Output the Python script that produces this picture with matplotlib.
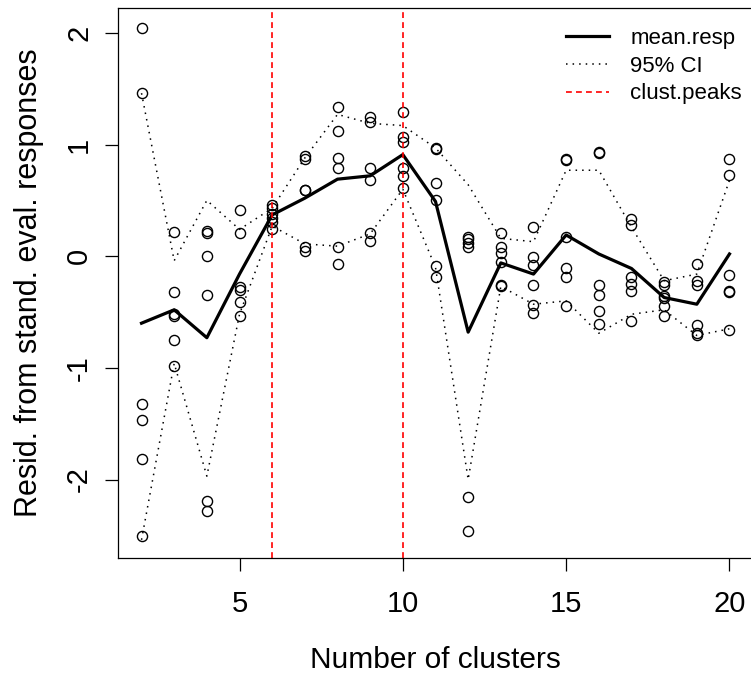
import numpy as np
import matplotlib
matplotlib.use("Agg")
import matplotlib.pyplot as plt

plt.rcParams['font.family'] = ['Liberation Sans', 'DejaVu Sans']

# ---- data ----
n_clusters = [2, 3, 4, 5, 6, 7, 8, 9, 10, 11, 12, 13, 14, 15, 16, 17, 18, 19, 20]

resid_points = [
    [2.04, 1.46, -1.32, -1.47, -1.82, -2.51],
    [0.22, -0.32, -0.52, -0.54, -0.75, -0.98],
    [0.23, 0.21, 0.00, -0.35, -2.19, -2.28],
    [0.41, 0.21, -0.28, -0.30, -0.41, -0.54],
    [0.46, 0.43, 0.38, 0.34, 0.31, 0.24],
    [0.90, 0.87, 0.59, 0.59, 0.08, 0.05],
    [1.34, 1.12, 0.88, 0.79, 0.08, -0.07],
    [1.25, 1.20, 0.79, 0.68, 0.21, 0.14],
    [1.29, 1.07, 1.02, 0.79, 0.72, 0.61],
    [0.97, 0.96, 0.66, 0.50, -0.09, -0.19],
    [0.17, 0.15, 0.12, 0.08, -2.16, -2.46],
    [0.21, 0.08, 0.03, -0.05, -0.26, -0.27],
    [0.26, -0.01, -0.08, -0.26, -0.44, -0.51],
    [0.87, 0.86, 0.17, -0.11, -0.19, -0.45],
    [0.93, 0.92, -0.26, -0.35, -0.49, -0.61],
    [0.33, 0.28, -0.19, -0.25, -0.31, -0.58],
    [-0.23, -0.26, -0.36, -0.37, -0.45, -0.54],
    [-0.07, -0.22, -0.26, -0.62, -0.69, -0.71],
    [0.87, 0.73, -0.17, -0.31, -0.32, -0.66],
]

mean_resp = [-0.60, -0.48, -0.73, -0.16, 0.37, 0.52, 0.69, 0.72, 0.91, 0.49,
             -0.68, -0.06, -0.16, 0.19, 0.02, -0.11, -0.37, -0.43, 0.02]
ci_upper = [1.46, -0.04, 0.50, 0.24, 0.43, 0.88, 1.27, 1.19, 1.17, 0.97,
            0.64, 0.16, 0.13, 0.77, 0.77, 0.26, -0.22, -0.16, 0.68]
ci_lower = [-2.54, -0.96, -1.97, -0.52, 0.27, 0.11, 0.09, 0.20, 0.60, -0.10,
            -2.00, -0.27, -0.43, -0.40, -0.69, -0.52, -0.48, -0.71, -0.65]
clust_peaks = [6, 10]

xticks = [5, 10, 15, 20]
yticks = [-2, -1, 0, 1, 2]

# ---- figure ----
W, H = 751, 673
fig = plt.figure(figsize=(W / 100, H / 100), dpi=100)
left, right, top, bottom = 118, 753, 8, 558
ax = fig.add_axes([left / W, 1 - bottom / H, (right - left) / W, (bottom - top) / H])

for k, pts in zip(n_clusters, resid_points):
    ax.plot([k] * len(pts), pts, linestyle='none', marker='o', markersize=7.3,
            markerfacecolor='none', markeredgecolor='black', markeredgewidth=1.0)

ax.plot(n_clusters, mean_resp, color='black', lw=2.3, label='mean.resp',
        solid_joinstyle='round')
ax.plot(n_clusters, ci_upper, color='black', lw=1.1, linestyle=(0, (1, 3.3)),
        label='95% CI')
ax.plot(n_clusters, ci_lower, color='black', lw=1.1, linestyle=(0, (1, 3.3)))
for i, p in enumerate(clust_peaks):
    ax.axvline(p, color='red', lw=1.2, linestyle=(0, (3.5, 2.5)),
               label='clust.peaks' if i == 0 else None)

ax.set_xlim(1.28, 20.72)
ax.set_ylim(-2.703, 2.223)
ax.set_xticks(xticks)
ax.set_yticks(yticks)
ax.set_yticklabels([str(v) for v in yticks])
ax.tick_params(axis='both', direction='out', length=9.4, width=0.9,
               labelsize=21, color='black')
ax.tick_params(axis='x', pad=14)
ax.tick_params(axis='y', pad=8.5, labelrotation=90)
for lab in ax.get_yticklabels():
    lab.set_va('center')

for s in ax.spines.values():
    s.set_linewidth(0.9)

fig.text(435 / W, 1 - 668 / H, 'Number of clusters', fontsize=21.5,
         ha='center', va='baseline')
fig.text(37 / W, 1 - 283 / H, 'Resid. from stand. eval. responses', fontsize=22,
         rotation=90, rotation_mode='anchor', ha='center', va='baseline')

leg = ax.legend(loc='upper left', bbox_to_anchor=(566 / W, 1 - 28 / H),
                bbox_transform=fig.transFigure, frameon=False, fontsize=16,
                borderpad=0, borderaxespad=0, handlelength=1.95,
                handletextpad=0.95, labelspacing=0.3)

fig.savefig('out.png', dpi=100)
